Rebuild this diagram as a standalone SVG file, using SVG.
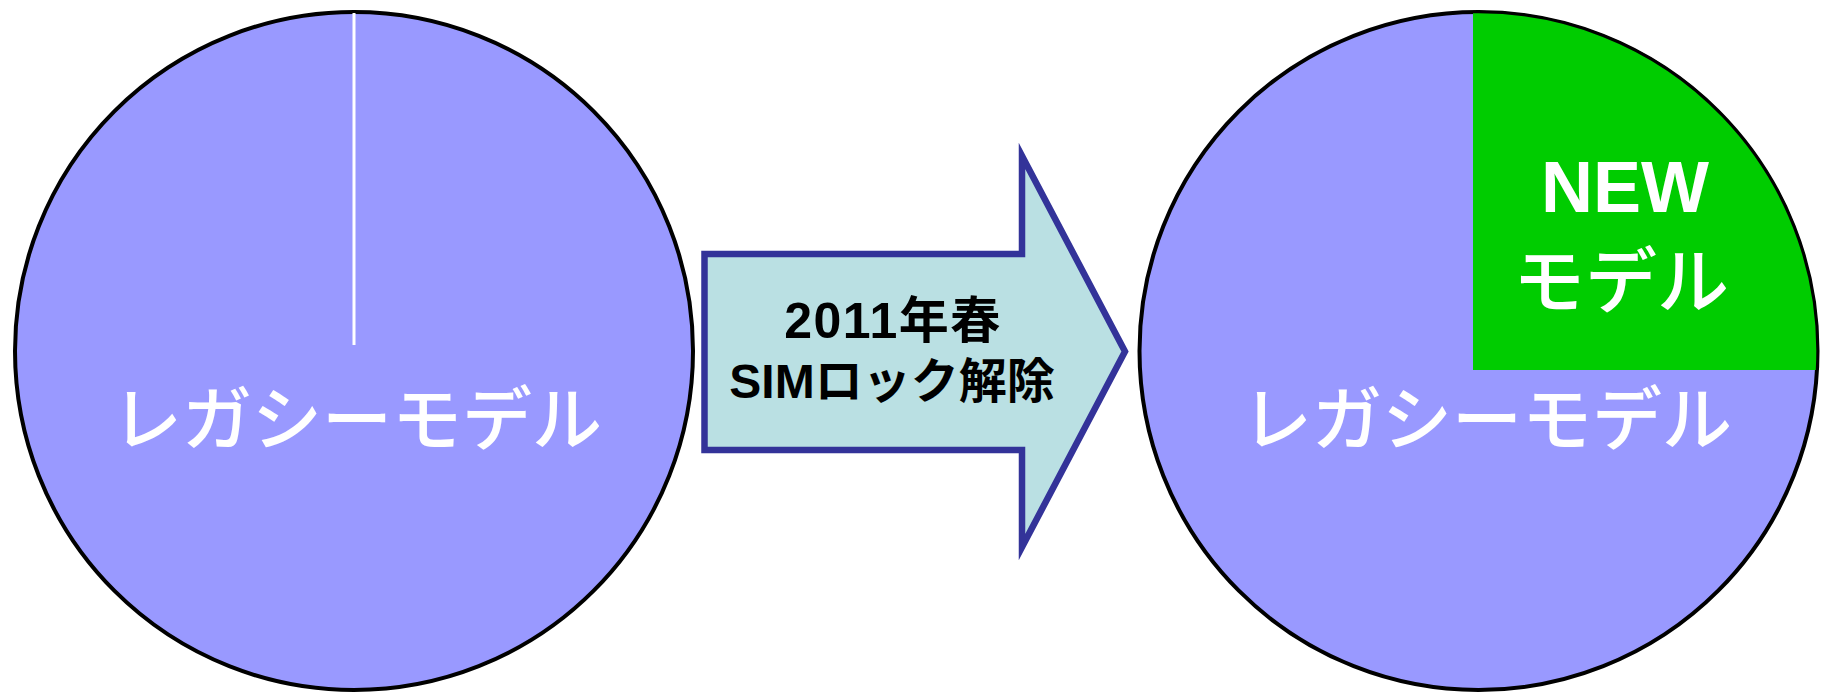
<svg xmlns="http://www.w3.org/2000/svg" width="1822" height="693" viewBox="0 0 1822 693">
<defs>
<style>
.pie{fill:#9999FF;stroke:#000;stroke-width:4}
.lbl{font-family:"Noto Sans CJK JP","Noto Sans",sans-serif;font-weight:500;fill:#fff;text-anchor:middle}
.new{font-family:"Liberation Sans","Noto Sans CJK JP",sans-serif;font-weight:bold;fill:#fff;text-anchor:middle}
.arrowtxt{font-family:"Liberation Sans","Noto Sans CJK JP",sans-serif;font-weight:bold;fill:#000;text-anchor:middle}
</style>
</defs>
<rect width="1822" height="693" fill="#fff"/>
<g id="before">
<circle class="pie" cx="354" cy="351" r="339"/>
<line x1="354" y1="13" x2="354" y2="345" stroke="#fff" stroke-width="3"/>
<text class="lbl" x="357" y="445" font-size="70">レガシーモデル</text>
</g>
<g id="connectors">
<g id="arrow">
<polygon points="704.5,254 1022,254 1022,156 1125,351.5 1022,547 1022,450 704.5,450" fill="#BAE0E3" stroke="#333399" stroke-width="6.5" stroke-miterlimit="10"/>
<text class="arrowtxt" x="893" y="338" font-size="50" letter-spacing="1.5">2011年春</text>
<text class="arrowtxt" x="892" y="398" font-size="48">SIMロック解除</text>
</g>
</g>
<g id="after">
<circle class="pie" cx="1478.5" cy="351" r="339"/>
<path d="M1473,12.05 L1473,370 L1817,370 A339,339 0 0 0 1473,12.05 Z" fill="#00CC00"/>
<path d="M1817,370 A339,339 0 0 0 1473,12.05" fill="none" stroke="#000" stroke-width="2.5"/>
<text class="new" x="1625" y="212" font-size="72">NEW</text>
<text class="lbl" x="1621" y="307" font-size="72">モデル</text>
<text class="lbl" x="1487" y="445" font-size="70">レガシーモデル</text>
</g>
</svg>
